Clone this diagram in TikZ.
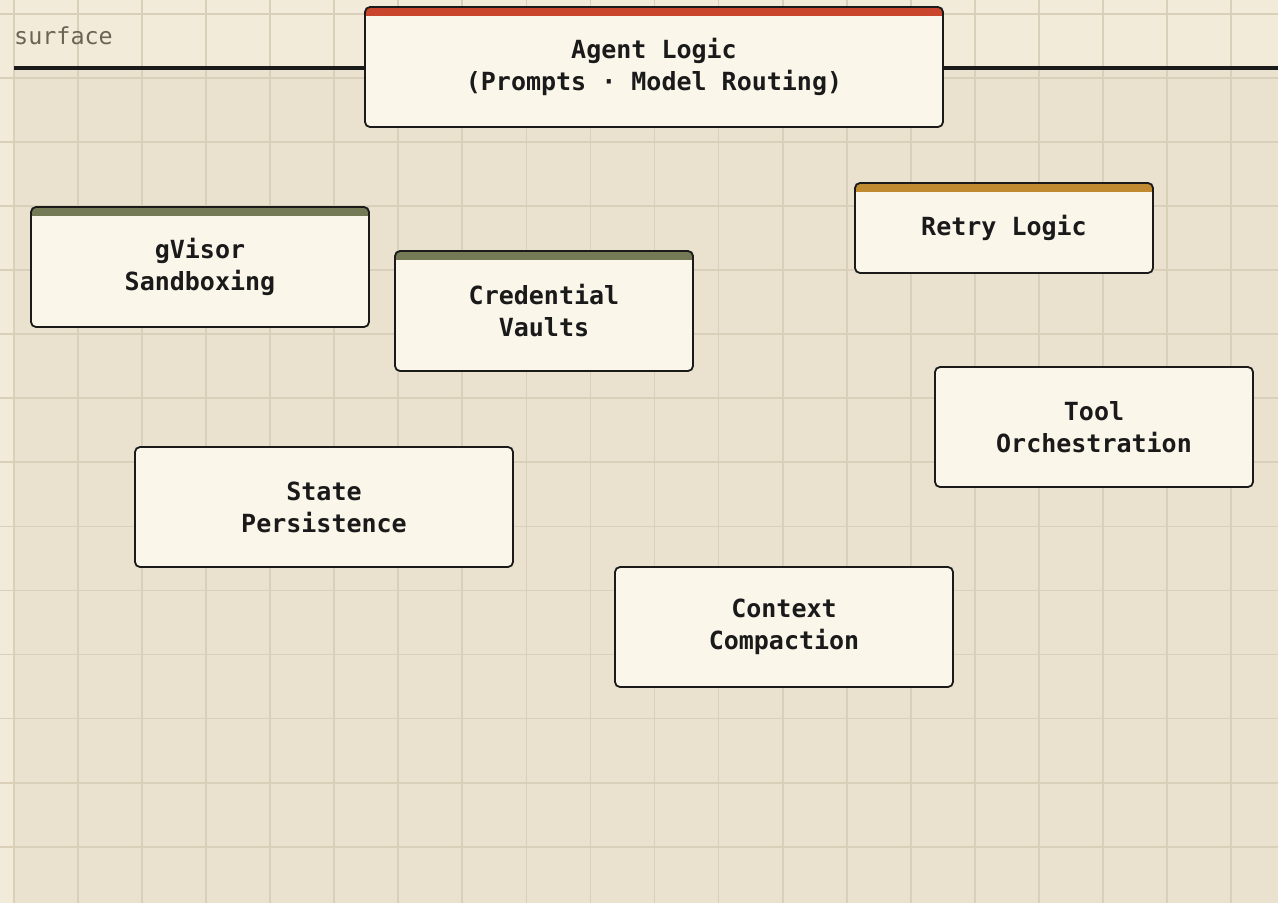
\documentclass[tikz,border=0pt]{standalone}
\usepackage{fontspec}
\setmonofont{DejaVu Sans Mono}
\usepackage{tikz}
\definecolor{paperLight}{HTML}{F3EBDA}
\definecolor{paperDark}{HTML}{EAE2CE}
\definecolor{gridTan}{HTML}{DAD0BA}
\definecolor{inkBlack}{HTML}{1A1A1A}
\definecolor{boxCream}{HTML}{FAF6EA}
\definecolor{barRed}{HTML}{C9452C}
\definecolor{barOlive}{HTML}{737A55}
\definecolor{barGold}{HTML}{C08A30}
\definecolor{labelGray}{HTML}{6B6356}

\begin{document}
\begin{tikzpicture}[
  x=1pt, y=-1pt,
  block/.style={draw=inkBlack, fill=boxCream, rounded corners=5pt, line width=1.8pt, align=center, inner sep=0pt, text=inkBlack, font=\fontsize{25}{32}\selectfont\ttfamily\bfseries},
  topbar/.style={path picture={\fill[#1, sharp corners] (path picture bounding box.north west) rectangle ([yshift=-9pt]path picture bounding box.north east);}},
  gridline/.style={draw=gridTan, line width=1.8pt},
  surfacetag/.style={font=\fontsize{23.4}{27}\selectfont\ttfamily, text=labelGray, inner sep=0pt}
]
\useasboundingbox (0,0) rectangle (1278,903);

% ---------- PAPER + GRID ----------
\fill[paperLight] (0,0) rectangle (1278,903);
\fill[paperDark] (14,68) rectangle (1278,903);
\foreach \gx in {0,...,19} \draw[gridline] ({14+64.05*\gx},0) -- ({14+64.05*\gx},903);
\foreach \gy in {0,...,13} \draw[gridline] (0,{14+64.05*\gy}) -- (1278,{14+64.05*\gy});

% ---------- SURFACE ----------
\coordinate (surfL) at (14,68);
\coordinate (surfR) at (1278,68);
\draw[inkBlack, line width=3.2pt] (surfL) -- (surfR);
\node[surfacetag, anchor=west] (surface) at (14,36) {surface};

% ---------- BLOCKS ----------
\node[block, topbar=barRed, minimum width=578pt, minimum height=120pt] (agent) at (654,67) {Agent Logic\\(Prompts · Model Routing)};
\node[block, topbar=barOlive, minimum width=338pt, minimum height=120pt] (gvisor) at (200,267) {gVisor\\Sandboxing};
\node[block, topbar=barOlive, minimum width=298pt, minimum height=120pt] (vaults) at (544,311) {Credential\\Vaults};
\node[block, topbar=barGold, minimum width=298pt, minimum height=90pt] (retry) at (1004,228) {Retry Logic};
\node[block, minimum width=318pt, minimum height=120pt] (tools) at (1094,427) {Tool\\Orchestration};
\node[block, minimum width=378pt, minimum height=120pt] (state) at (324,507) {State\\Persistence};
\node[block, minimum width=338pt, minimum height=120pt] (compact) at (784,627) {Context\\Compaction};

\end{tikzpicture}
\end{document}
